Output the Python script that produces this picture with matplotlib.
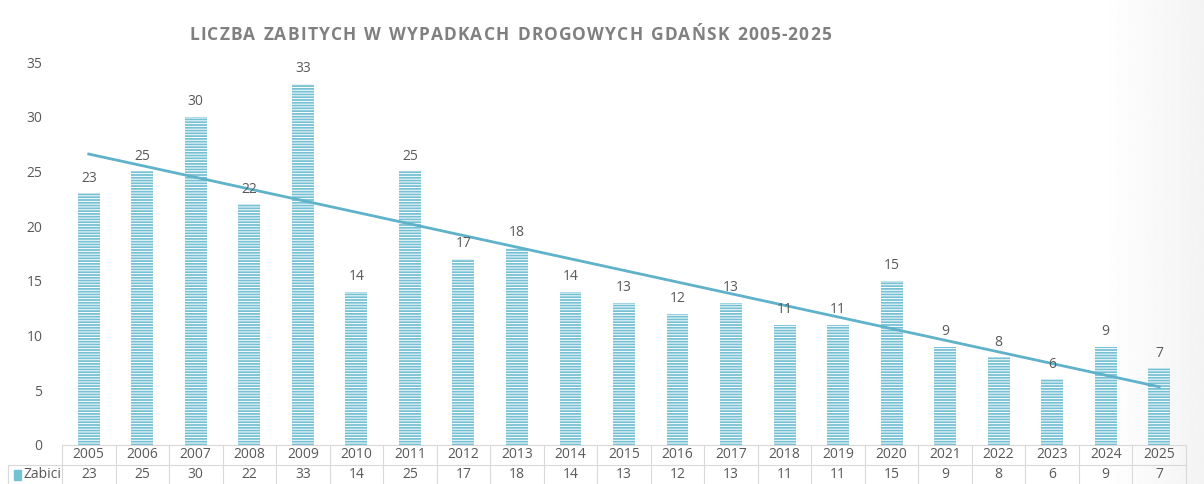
import numpy as np
import matplotlib
matplotlib.use("Agg")
import matplotlib.pyplot as plt
from matplotlib.patches import Rectangle

plt.rcParams["font.family"] = ["Open Sans", "DejaVu Sans"]
plt.rcParams["hatch.linewidth"] = 0.7

years = ["2005", "2006", "2007", "2008", "2009", "2010", "2011", "2012", "2013", "2014",
         "2015", "2016", "2017", "2018", "2019", "2020", "2021", "2022", "2023", "2024", "2025"]
zabici = [23, 25, 30, 22, 33, 14, 25, 17, 18, 14, 13, 12, 13, 11, 11, 15, 9, 8, 6, 9, 7]
series_name = "Zabici"
title = "LICZBA ZABITYCH W WYPADKACH DROGOWYCH GDAŃSK 2005-2025"

bar_color = "#76c0d4"
line_color = "#5fb2c9"
text_grey = "#595959"
grid_grey = "#d9d9d9"

fig = plt.figure(figsize=(12.04, 4.84), dpi=100)
fig.patch.set_facecolor("white")

# subtle grey fade on the right edge
bg = fig.add_axes([1100 / 1204, 0, 104 / 1204, 1], zorder=-5)
bg.imshow(np.linspace(1.0, 0.955, 64).reshape(1, -1), cmap="gray", vmin=0, vmax=1,
          aspect="auto", extent=[0, 1, 0, 1])
bg.set_axis_off()

ax = fig.add_axes([62 / 1204, 1 - 445 / 484, 1124 / 1204, 383 / 484])
ax.patch.set_alpha(0)
x = np.arange(len(years))

ax.bar(x, zabici, width=0.41, color=bar_color, edgecolor="white", linewidth=0,
       hatch="------", zorder=2)

# linear trend line
k, b = np.polyfit(x, zabici, 1)
ax.plot(x, k * x + b, color=line_color, linewidth=2, zorder=3)

for xi, v in zip(x, zabici):
    ax.text(xi, v + 0.7, str(v), ha="center", va="bottom", fontsize=10, color=text_grey, zorder=4)

ax.set_xlim(-0.5, len(years) - 0.5)
ax.set_ylim(0, 35)
ax.set_yticks(range(0, 36, 5))
ax.tick_params(axis="y", length=0, labelsize=10, labelcolor=text_grey, pad=14)
ax.set_xticks([])
for s in ["top", "right", "left"]:
    ax.spines[s].set_visible(False)
ax.spines["bottom"].set_color(grid_grey)

# data table under the axis
row_h = 20 / 383
tr = ax.get_xaxis_transform()
n = len(years)
for i in range(n + 1):
    ax.plot([i - 0.5, i - 0.5], [0, -2.2 * row_h], transform=tr, color=grid_grey,
            linewidth=0.8, clip_on=False)
ax.plot([-0.5, n - 0.5], [-row_h, -row_h], transform=tr, color=grid_grey, linewidth=0.8, clip_on=False)
ax.plot([-1.5, -0.5], [-row_h, -row_h], transform=tr, color=grid_grey, linewidth=0.8, clip_on=False)
ax.plot([-1.5, -1.5], [-row_h, -2.2 * row_h], transform=tr, color=grid_grey, linewidth=0.8, clip_on=False)
for xi, (yr, v) in enumerate(zip(years, zabici)):
    ax.text(xi, -0.5 * row_h, yr, transform=tr, ha="center", va="center", fontsize=10,
            color=text_grey, clip_on=False)
    ax.text(xi, -1.5 * row_h, str(v), transform=tr, ha="center", va="center", fontsize=10,
            color=text_grey, clip_on=False)
ax.add_patch(Rectangle((-1.4, -1.5 * row_h - 0.012), 0.13, 0.024, transform=tr,
                       color=bar_color, clip_on=False))
ax.text(-1.22, -1.5 * row_h, series_name, transform=tr, ha="left", va="center", fontsize=10,
        color=text_grey, clip_on=False)

# title with letter spacing, laid out char by char
renderer = fig.canvas.get_renderer()
tracking = 1.15  # extra px between letters
title_kw = dict(fontsize=12.5, fontweight="bold", color="#808080", va="center", ha="left")
widths = []
for ch in title:
    t = fig.text(0, 0, ch if ch != " " else "n", **title_kw)
    w = t.get_window_extent(renderer).width
    widths.append(w * (0.5 if ch == " " else 1.0))
    t.remove()
total = sum(widths) + tracking * (len(title) - 1)
xpos = 510 - total / 2
for ch, w in zip(title, widths):
    if ch != " ":
        fig.text(xpos / 1204, 1 - 35 / 484, ch, **title_kw)
    xpos += w + tracking

fig.savefig("out.png", dpi=100, facecolor="white")
